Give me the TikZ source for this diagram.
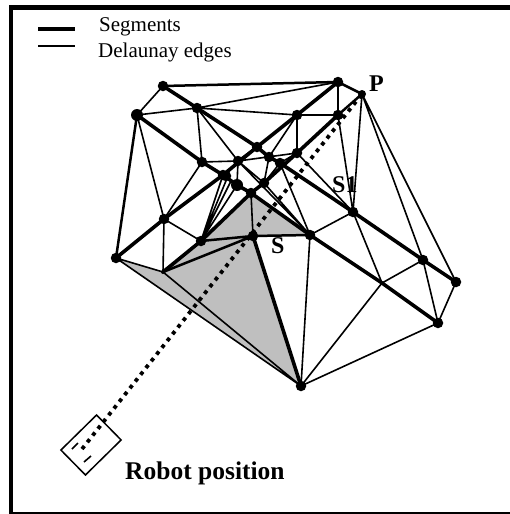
\documentclass[tikz,border=0pt]{standalone}
\usetikzlibrary{calc}
\usepackage{fontspec}
\setmainfont{Liberation Serif}
\tikzset{x=1pt,y=-1pt,
 vtx/.style={circle,fill=black,draw=none,inner sep=0pt,minimum size=10.5pt},
 seg/.style={line width=3.6pt},
 med/.style={line width=2.5pt},
 del/.style={line width=1.6pt},
 ray/.style={line width=3.8pt,dash pattern=on 3.8pt off 4.8pt},
 lab/.style={font=\bfseries\fontsize{24}{26}\selectfont,inner sep=0pt},
 leg/.style={font=\fontsize{21}{23}\selectfont,inner sep=0pt,anchor=west}}
\begin{document}
\begin{tikzpicture}
\useasboundingbox (0,0) rectangle (510,514);
\clip (0,0) rectangle (510,514);
\draw[line width=4.5pt] (11,7.5) -- (530,7.5) (11,5) -- (11,514) (9,514) -- (530,514);
\path
 (163,86) coordinate (a) (137,115) coordinate (b) (197,108) coordinate (c)
 (297,115) coordinate (d) (338,82) coordinate (e) (362,94) coordinate (P)
 (338,115) coordinate (f) (297,153) coordinate (h) (257,147) coordinate (i)
 (269,157) coordinate (k) (280,163) coordinate (l) (202,162) coordinate (m)
 (238,161) coordinate (n) (223,175) coordinate (o) (237,185) coordinate (q)
 (264,183) coordinate (r) (251,193) coordinate (s) (164,219) coordinate (t)
 (201,241) coordinate (u) (253,236) coordinate (v) (116,258) coordinate (w)
 (163,272) coordinate (x) (310,235) coordinate (y) (353,212) coordinate (A)
 (423,260) coordinate (z) (456,282) coordinate (B) (438,323) coordinate (C)
 (301,386) coordinate (D) (382,283) coordinate (X);
\fill[black!25] (w)--(x)--(u)--(s)--(y)--(v)--(D)--cycle;
\draw[del,line cap=round]
 (a)--(b) (b)--(t) (b)--(c) (c)--(d) (c)--(m) (c)--(n) (c)--(e)
 (m)--(n) (m)--(t) (t)--(x) (t)--(u) (w)--(x) (w)--(D) (x)--(D)
 (n)--(q) (n)--(r) (n)--(h) (d)--(k) (d)--(h) (d)--(f) (e)--(f) (f)--(A) (P)--(A)
 (P)--(z) (P)--(B) (A)--(y) (A)--(X) (X)--(D) (X)--(z) (y)--(D) (y)--(l) (r)--(y)
 (h)--(A) (n)--(y)
 (v)--(s) (D)--(C) (z)--(C) (B)--(C) (k)--(r) (l)--(r) (h)--(l)
 (u)--(o) (u)--(q) (u)--($(o)+(5,1)$) (u)--($(q)+(-6,-4)$);
\draw[med]
 (a)--(e) (e)--(P) (b)--(w) (x)--(v) (u)--(v) (v)--(y) (f)--(P) (n)--(i);
\draw[seg]
 (a)--(c)--(i)--(k)--(l)--(A)--(z)--(B)
 (b)--(m)--(o)--(q)--(s)--(y)--(X)--(C)
 (w)--(t)--(o)--(i)--(d)--(e)
 (x)--(u)--(s)--(r)--(h)--(f)
 (v)--(D);
\foreach \v in {a,c,d,e,f,h,i,k,l,m,n,o,r,s,t,u,v,w,y,A,z,B,C,D}
  \node[vtx] (n\v) at (\v) {};
\node[vtx,minimum size=12pt] (nb) at (b) {};
\node[vtx,minimum size=12pt] (nq) at (q) {};
\node[vtx] (no2) at ($(o)+(3,1)$) {};
\node[circle,fill=black,inner sep=0pt,minimum size=8pt] (nP) at (P) {};
\node[circle,fill=black,inner sep=0pt,minimum size=4pt] (nx) at (x) {};
\node[draw=black,line width=1.5pt,rotate=-45.5,minimum width=35pt,minimum height=50pt,inner sep=0pt] (robot) at (91,445) {};
\coordinate (r1) at (72,449); \coordinate (r2) at (78,443);
\coordinate (r3) at (84,462); \coordinate (r4) at (91,456);
\draw[del] (r1)--(r2) (r3)--(r4);
\coordinate (rayend) at (82,449);
\draw[ray] (rayend)--(P);
\node[lab,anchor=west] (lP) at (369,84) {P};
\node[lab,anchor=west] (lS1) at (332,185) {S1};
\node[lab,anchor=west] (lS) at (271,246) {S};
\node[font=\bfseries\fontsize{25.5}{28}\selectfont,inner sep=0pt,anchor=west] (lR) at (125,473) {Robot position};
\coordinate (l1a) at (38,29); \coordinate (l1b) at (75,29);
\coordinate (l2a) at (38,46); \coordinate (l2b) at (75,46);
\draw[line width=4.5pt] (l1a)--(l1b);
\draw[line width=2pt] (l2a)--(l2b);
\node[leg] (t1) at (99,27) {Segments};
\node[leg] (t3) at (98,52) {Delaunay edges};
\end{tikzpicture}
\end{document}
